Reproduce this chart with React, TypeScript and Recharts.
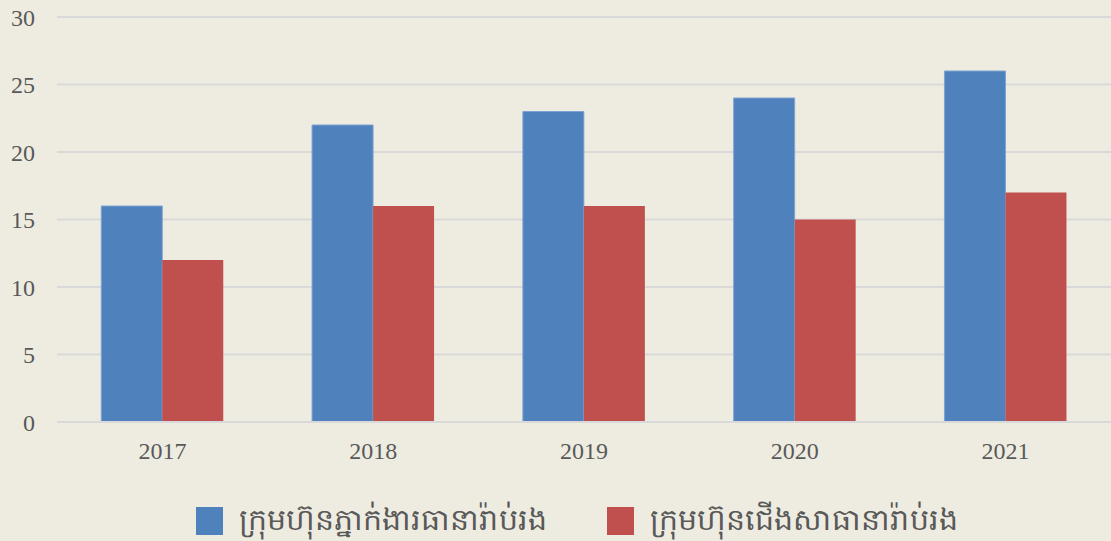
import { BarChart, Bar, XAxis, YAxis, CartesianGrid, Legend } from "recharts";

const years = ["2017", "2018", "2019", "2020", "2021"];
const listedCompanies = [16, 22, 23, 24, 26];
const hqCompanies = [12, 16, 16, 15, 17];
const yTicks = [0, 5, 10, 15, 20, 25, 30];

const seriesNames = {
  listed: "ក្រុមហ៊ុនភ្នាក់ងារធានារ៉ាប់រង",
  hq: "ក្រុមហ៊ុនជើងសាធានារ៉ាប់រង",
};
const seriesOrder = ["listed", "hq"];

const data = years.map((year, i) => ({
  year,
  listed: listedCompanies[i],
  hq: hqCompanies[i],
}));

document.body.style.margin = "0";

const tickStyle = { fill: "#595959", fontSize: 24, fontFamily: "Liberation Serif, serif" };

function LegendContent({ payload }: any) {
  const items = [...(payload || [])].sort(
    (a: any, b: any) => seriesOrder.indexOf(a.dataKey) - seriesOrder.indexOf(b.dataKey)
  );
  return (
    <div style={{ display: "flex", justifyContent: "center", alignItems: "center", height: 40, gap: 60, paddingLeft: 42, paddingTop: 4 }}>
      {items.map((p: any) => (
        <div key={p.value} style={{ display: "flex", alignItems: "center", gap: 16 }}>
          <span style={{ width: 27, height: 28, background: p.color, display: "inline-block" }} />
          <span style={{ fontSize: 30, color: "#595959", fontFamily: "'Noto Sans', sans-serif" }}>{p.value}</span>
        </div>
      ))}
    </div>
  );
}

export default function App() {
  return (
    <div style={{ width: 1111, height: 541, background: "#EEECE1" }}>
      <BarChart
        width={1111}
        height={541}
        data={data}
        margin={{ top: 17, right: 0, bottom: 4, left: 0 }}
        barCategoryGap="21%"
        barGap={0}
      >
        <CartesianGrid vertical={false} stroke="#D9D9D9" strokeWidth={2} />
        <XAxis
          dataKey="year"
          height={75}
          axisLine={{ stroke: "#D9D9D9", strokeWidth: 2 }}
          tickLine={false}
          tickMargin={14}
          tick={tickStyle}
        />
        <YAxis
          domain={[0, 30]}
          ticks={yTicks}
          width={57}
          axisLine={false}
          tickLine={false}
          tickSize={0}
          tickMargin={22}
          tick={tickStyle}
        />
        <Legend verticalAlign="bottom" height={40} content={<LegendContent />} />
        <Bar dataKey="listed" name={seriesNames.listed} fill="#4F81BD" stroke="#7FA3D3" strokeWidth={1} isAnimationActive={false} />
        <Bar dataKey="hq" name={seriesNames.hq} fill="#C0504D" isAnimationActive={false} />
      </BarChart>
    </div>
  );
}
